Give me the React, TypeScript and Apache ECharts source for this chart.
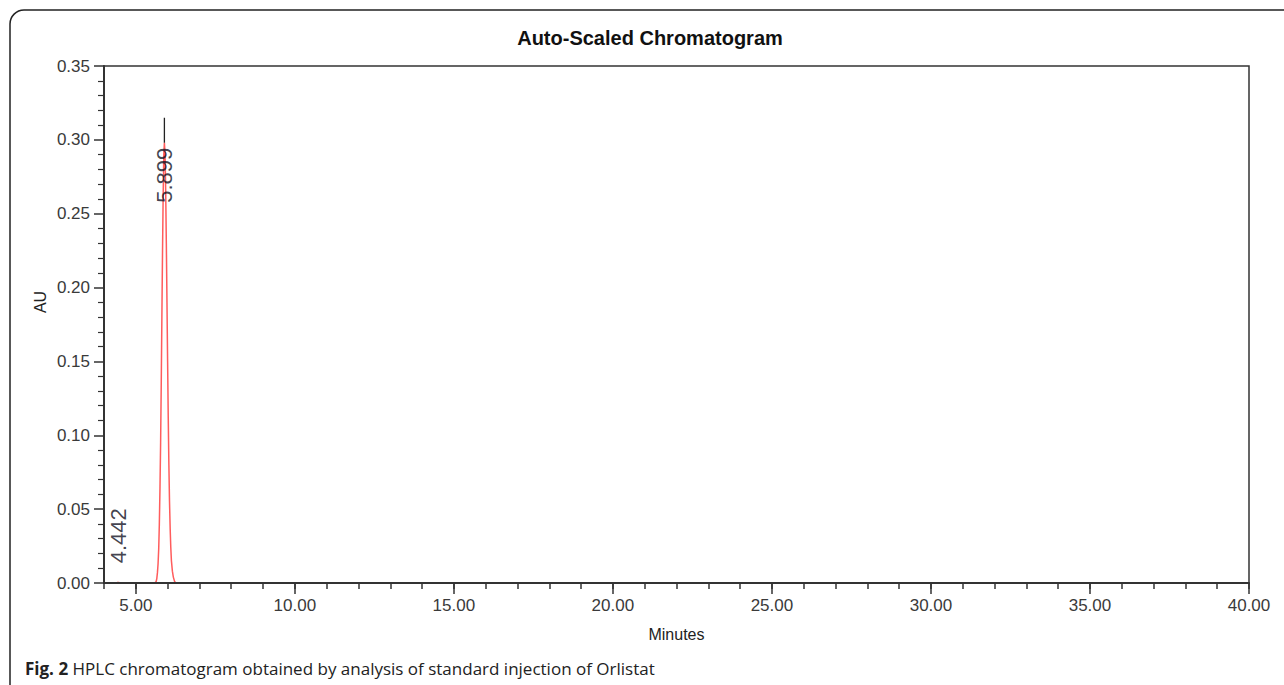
import React, { useEffect, useRef } from "react";
import * as echarts from "echarts";

// Chromatogram trace (minutes, AU)
const timeMin = [
  4.0, 4.40, 4.425, 4.442, 4.46, 4.49,
  5.60, 5.64, 5.66, 5.68, 5.70, 5.72, 5.74, 5.76, 5.78, 5.80, 5.82, 5.84, 5.86, 5.88,
  5.899,
  5.92, 5.94, 5.96, 5.98, 6.00, 6.02, 6.04, 6.06, 6.08, 6.10, 6.12, 6.15, 6.18, 6.22, 6.26,
  40.0,
];
const absorbance = [
  0.0, 0.0, 0.0004, 0.0007, 0.0004, 0.0,
  0.0, 0.001, 0.003, 0.007, 0.013, 0.023, 0.040, 0.064, 0.095, 0.135, 0.180, 0.224, 0.262, 0.290,
  0.298,
  0.290, 0.265, 0.230, 0.190, 0.150, 0.112, 0.080, 0.055, 0.037, 0.024, 0.015, 0.008, 0.004, 0.001, 0.0,
  0.0,
];

// Peak annotations
const peakLabels = ["4.442", "5.899"];
const peakTimes = [4.442, 5.899];
const peakLabelAU = [0.032, 0.276];
const markerTime = 5.899;
const markerFrom = 0.298;
const markerTo = 0.315;

// Axis ticks
const xMajorTicks = [5, 10, 15, 20, 25, 30, 35, 40];
const xMin = 4;
const xMax = 40;
const yMin = 0;
const yMax = 0.35;
const yStep = 0.05;

const title = "Auto-Scaled Chromatogram";
const xName = "Minutes";
const yName = "AU";
const captionBold = "Fig. 2";
const captionText = " HPLC chromatogram obtained by analysis of standard injection of Orlistat";

export default function App() {
  const ref = useRef<HTMLDivElement>(null);

  useEffect(() => {
    if (!ref.current) return;
    const chart = echarts.init(ref.current, undefined, { renderer: "svg" });
    const axisColor = "#333";
    const font = "Liberation Sans, Arial, sans-serif";
    const trace = timeMin.map((t, i) => [t, absorbance[i]]);
    const labelData = peakTimes.map((t, i) => ({ name: peakLabels[i], value: [t, peakLabelAU[i]] }));

    chart.setOption({
      animation: false,
      backgroundColor: "#fff",
      title: {
        text: title,
        left: 645,
        textAlign: "center",
        top: 23,
        textStyle: { fontFamily: font, fontSize: 20, fontWeight: "bold", color: "#111" },
      },
      grid: {
        left: 104,
        top: 66,
        width: 1145,
        height: 517,
        show: true,
        borderColor: axisColor,
        borderWidth: 1.5,
        backgroundColor: "transparent",
      },
      xAxis: [
        {
          type: "value",
          min: xMin,
          max: xMax,
          interval: 1,
          z: 5,
          axisLine: { show: true, onZero: false, lineStyle: { color: axisColor, width: 2 } },
          axisTick: { show: true, length: 6, lineStyle: { color: axisColor, width: 1.5 } },
          axisLabel: { show: false },
          splitLine: { show: false },
          name: xName,
          nameLocation: "middle",
          nameGap: 43,
          nameTextStyle: { fontFamily: font, fontSize: 16, color: "#222" },
        },
        {
          type: "value",
          min: xMin,
          max: xMax,
          position: "bottom",
          z: 5,
          axisLine: { show: false, onZero: false },
          axisTick: {
            show: true,
            length: 11,
            customValues: xMajorTicks,
            lineStyle: { color: axisColor, width: 1.5 },
          },
          axisLabel: {
            show: true,
            customValues: xMajorTicks,
            margin: 14,
            formatter: (v: number) => v.toFixed(2),
            fontFamily: font,
            fontSize: 17,
            color: "#3a3a3a",
          },
          splitLine: { show: false },
        },
      ],
      yAxis: {
        type: "value",
        min: yMin,
        max: yMax,
        interval: yStep,
        z: 5,
        axisLine: { show: true, onZero: false, lineStyle: { color: axisColor, width: 2 } },
        axisTick: { show: true, length: 10, lineStyle: { color: axisColor, width: 1.5 } },
        minorTick: { show: true, splitNumber: 5, length: 6, lineStyle: { color: axisColor, width: 1.2 } },
        axisLabel: {
          margin: 14,
          formatter: (v: number) => v.toFixed(2),
          fontFamily: font,
          fontSize: 17,
          color: "#3a3a3a",
        },
        splitLine: { show: false },
      },
      graphic: [
        {
          type: "rect",
          shape: { x: 10, y: 10, width: 1300, height: 700, r: [14, 0, 0, 0] },
          style: { fill: "none", stroke: "#222", lineWidth: 1.5 },
          silent: true,
        },
        {
          type: "text",
          x: 40,
          y: 302,
          rotation: Math.PI / 2,
          style: {
            text: yName,
            fontFamily: font,
            fontSize: 16,
            fill: "#222",
            align: "center",
            verticalAlign: "middle",
          },
        },
        {
          type: "text",
          x: 25,
          y: 668,
          style: {
            text: `{b|${captionBold}}{n|${captionText}}`,
            verticalAlign: "middle",
            rich: {
              b: { fontFamily: "Open Sans, sans-serif", fontSize: 17, fontWeight: "bold", fill: "#222" },
              n: { fontFamily: "Open Sans, sans-serif", fontSize: 17, fill: "#222" },
            },
          },
        },
      ],
      series: [
        {
          type: "line",
          xAxisIndex: 0,
          data: trace,
          showSymbol: false,
          symbol: "none",
          lineStyle: { color: "#ff4040", width: 1.5, opacity: 0.85 },
          z: 2,
        },
        {
          type: "line",
          xAxisIndex: 0,
          data: [
            [markerTime, markerFrom],
            [markerTime, markerTo],
          ],
          showSymbol: false,
          symbol: "none",
          lineStyle: { color: "#222", width: 1.3 },
          z: 3,
        },
        {
          type: "scatter",
          xAxisIndex: 0,
          data: labelData,
          symbolSize: 0,
          z: 4,
          label: {
            show: true,
            position: "inside",
            rotate: 90,
            formatter: (p: any) => p.name,
            fontFamily: font,
            fontSize: 22,
            color: "#111122",
          },
        },
      ],
    });
    return () => chart.dispose();
  }, []);

  return (
    <div
      ref={ref}
      style={{ position: "fixed", left: 0, top: 0, width: 1284, height: 685, background: "#fff" }}
    />
  );
}
